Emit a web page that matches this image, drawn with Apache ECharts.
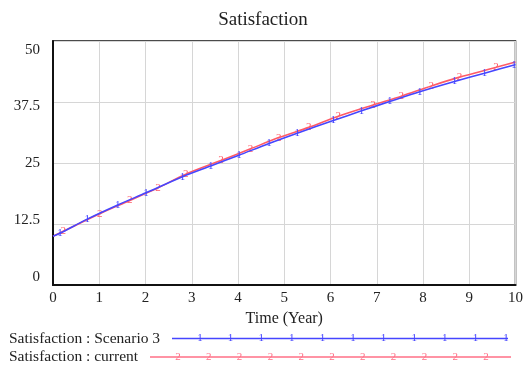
<!DOCTYPE html>
<html>
<head>
<meta charset="utf-8">
<script src="https://cdn.jsdelivr.net/npm/echarts@6/dist/echarts.min.js"></script>
<style>html,body{margin:0;padding:0;background:#fff;}#c{width:526px;height:365px;}</style>
</head>
<body>
<div id="c"></div>
<script>
// ---- data ----
var titleText = 'Satisfaction';
var xName = 'Time (Year)';
var nameScenario = 'Satisfaction : Scenario 3';
var nameCurrent = 'Satisfaction : current';
var yTickLabels = ['0', '12.5', '25', '37.5', '50'];
var xTickLabels = ['0','1','2','3','4','5','6','7','8','9','10'];

// Scenario 3 (blue): time, value; marker flags (1 = "1" glyph drawn)
var scenTime  = [0, 0.15, 0.74, 1.40, 2.01, 2.80, 3.41, 4.02, 4.67, 5.28, 6.06, 6.67, 7.28, 7.93, 8.68, 9.33, 9.97, 10];
var scenValue = [10.0, 10.6, 13.5, 16.4, 18.9, 22.2, 24.4, 26.6, 29.0, 31.1, 33.7, 35.7, 37.6, 39.6, 41.7, 43.4, 45.1, 45.2];
var scenMark  = [0, 1, 1, 1, 1, 1, 1, 1, 1, 1, 1, 1, 1, 1, 1, 1, 1, 0];

// current (red)
var curTime  = [0, 0.22, 1.01, 1.66, 2.27, 2.87, 3.63, 4.27, 4.88, 5.53, 6.17, 6.92, 7.53, 8.18, 8.79, 9.58, 10];
var curValue = [10.0, 11.0, 14.6, 17.3, 19.9, 22.7, 25.5, 27.9, 30.2, 32.3, 34.6, 36.9, 38.7, 40.8, 42.6, 44.6, 45.7];
var curMark  = [0, 1, 1, 1, 1, 1, 1, 1, 1, 1, 1, 1, 1, 1, 1, 1, 0];

// ---- styling ----
var BLUE = '#4646ff';
var RED = '#ff5a66';
var RED_LEG = '#ff6f86';
var FONT = '"Liberation Serif", "Times New Roman", serif';

function buildData(ts, vs, ms) {
  return ts.map(function (t, i) {
    return { value: [t, vs[i]], label: { show: ms[i] === 1 } };
  });
}

// Vensim-like label offsets (labels drift relative to grid lines)
var yLabelShift = { '0': -8, '12.5': -4, '25': 0, '37.5': 4, '50': 9 };
var rich = {};
yTickLabels.forEach(function (s, i) {
  var d = yLabelShift[s];
  rich['y' + i] = {
    fontFamily: FONT, fontSize: 15, color: '#222',
    padding: d >= 0 ? [2 * d, 0, 0, 0] : [0, 0, -2 * d, 0]
  };
});

// legend graphics (layout only)
var graphics = [];
function legendRow(y, label, x0, x1, firstMark, step, n, glyph, color) {
  graphics.push({ type: 'text', x: 9, y: y,
    style: { text: label, font: '15.5px ' + FONT, fill: '#222', verticalAlign: 'middle' } });
  graphics.push({ type: 'line', shape: { x1: x0, y1: y, x2: x1, y2: y },
    style: { stroke: color, lineWidth: 1.4 } });
  for (var k = 0; k < n; k++) {
    graphics.push({ type: 'text', x: firstMark + k * step, y: y,
      style: { text: glyph, font: '11px ' + FONT, fill: color, align: 'center', verticalAlign: 'middle' } });
  }
}
legendRow(338.5, nameScenario, 172, 508, 200, 30.6, 11, '1', BLUE);
legendRow(357, nameCurrent, 150, 511, 178, 30.8, 11, '2', RED_LEG);

var chart = echarts.init(document.getElementById('c'), null, { renderer: 'canvas' });
chart.setOption({
  animation: false,
  backgroundColor: '#fff',
  title: {
    text: titleText, left: 'center', top: 6,
    textStyle: { fontFamily: FONT, fontSize: 19, fontWeight: 'normal', color: '#222' }
  },
  grid: { left: 53, right: 8, top: 41, bottom: 80, show: true, borderColor: '#111', borderWidth: 1.5 },
  xAxis: {
    type: 'value', min: 0, max: 10, interval: 1,
    name: xName, nameLocation: 'middle', nameGap: 23,
    nameTextStyle: { fontFamily: FONT, fontSize: 16, color: '#222' },
    axisLine: { lineStyle: { color: '#111', width: 2 } },
    axisTick: { show: false },
    axisLabel: { margin: 6, fontFamily: FONT, fontSize: 15, color: '#222',
      formatter: function (v) { return xTickLabels[Math.round(v)]; } },
    splitLine: { show: true, lineStyle: { color: '#d6d6d6', width: 1 } }
  },
  yAxis: {
    type: 'value', min: 0, max: 50, interval: 12.5,
    axisLine: { show: true, lineStyle: { color: '#111', width: 2 } },
    axisTick: { show: false },
    axisLabel: { margin: 13, rich: rich,
      formatter: function (v) {
        var i = Math.round(v / 12.5);
        return '{y' + i + '|' + yTickLabels[i] + '}';
      } },
    splitLine: { show: true, lineStyle: { color: '#d6d6d6', width: 1 } }
  },
  series: [
    {
      name: nameCurrent, type: 'line', smooth: 0.3,
      data: buildData(curTime, curValue, curMark),
      symbol: 'circle', symbolSize: 0.01,
      lineStyle: { color: RED, width: 1.6 }, itemStyle: { color: RED },
      label: { position: 'inside', formatter: '2', fontFamily: FONT, fontSize: 11, color: RED },
      z: 2
    },
    {
      name: nameScenario, type: 'line', smooth: 0.3,
      data: buildData(scenTime, scenValue, scenMark),
      symbol: 'circle', symbolSize: 0.01,
      lineStyle: { color: BLUE, width: 1.6 }, itemStyle: { color: BLUE },
      label: { position: 'inside', formatter: '1', fontFamily: FONT, fontSize: 11, color: BLUE },
      z: 3
    }
  ],
  graphic: graphics
});
</script>
</body>
</html>
